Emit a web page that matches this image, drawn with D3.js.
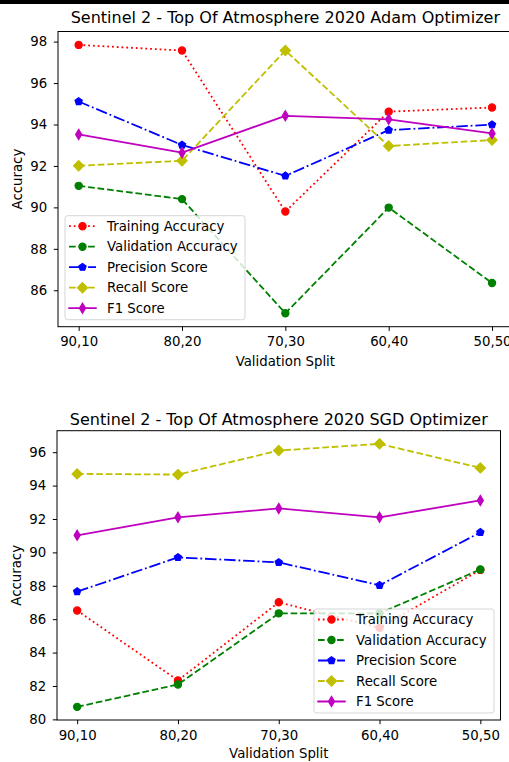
<!DOCTYPE html>
<html>
<head>
<meta charset="utf-8">
<script src="https://cdn.jsdelivr.net/npm/d3@7"></script>
<style>
  body { margin: 0; background: #fff; }
  svg { display: block; font-family: "DejaVu Sans", sans-serif; }
</style>
</head>
<body>
<svg id="chart" width="509" height="762"></svg>
<script>
// Validation splits (train %, validation %)
const splits = ["90,10", "80,20", "70,30", "60,40", "50,50"];
const seriesNames = ["Training Accuracy", "Validation Accuracy", "Precision Score", "Recall Score", "F1 Score"];

// Adam optimizer results
const adamTraining   = [97.84, 97.57, 89.80, 94.62, 94.82];
const adamValidation = [91.04, 90.40, 84.89, 89.99, 86.35];
const adamPrecision  = [95.11, 93.01, 91.52, 93.73, 93.99];
const adamRecall     = [92.01, 92.25, 97.57, 92.96, 93.25];
const adamF1         = [93.52, 92.64, 94.42, 94.25, 93.57];

// SGD optimizer results
const sgdTraining    = [86.52, 82.33, 87.01, 85.48, 88.95];
const sgdValidation  = [80.75, 82.09, 86.35, 86.35, 88.98];
const sgdPrecision   = [87.65, 89.70, 89.40, 88.03, 91.20];
const sgdRecall      = [94.70, 94.66, 96.10, 96.50, 95.06];
const sgdF1          = [91.02, 92.10, 92.63, 92.10, 93.11];

const adamTicks = [86, 88, 90, 92, 94, 96, 98];
const sgdTicks  = [80, 82, 84, 86, 88, 90, 92, 94, 96];

const titleAdam = "Sentinel 2 - Top Of Atmosphere 2020 Adam Optimizer";
const titleSgd  = "Sentinel 2 - Top Of Atmosphere 2020 SGD Optimizer";
const xLabel = "Validation Split";
const yLabel = "Accuracy";

const FONT = "13.3px";
const TITLE_FONT = "16px";

// line/marker styling per series
const styles = [
  { color: "#ff0000", dash: "1.8,2.97", cap: "butt", marker: "circle" },
  { color: "#008000", dash: "6.66,2.88", cap: "butt", marker: "circle" },
  { color: "#0000ff", dash: "11.52,2.88,1.8,2.88", cap: "butt", marker: "pentagon" },
  { color: "#bfbf00", dash: "6.66,2.88", cap: "butt", marker: "diamond" },
  { color: "#bf00bf", dash: null, cap: "round", marker: "thin_diamond" }
];

function markerPath(kind) {
  const s = 7.2; // marker size in px
  if (kind === "circle") {
    const r = s / 2;
    return `M${r},0A${r},${r},0,1,1,${-r},0A${r},${r},0,1,1,${r},0Z`;
  }
  if (kind === "pentagon") {
    const r = s / 2 * 1.05;
    const pts = d3.range(5).map(k => {
      const a = -Math.PI / 2 + k * 2 * Math.PI / 5;
      return [r * Math.cos(a), r * Math.sin(a)];
    });
    return "M" + pts.map(p => p.join(",")).join("L") + "Z";
  }
  const h = s * Math.SQRT1_2;
  const w = kind === "thin_diamond" ? h * 0.6 : h;
  return `M0,${-h}L${w},0L0,${h}L${-w},0Z`;
}

const svg = d3.select("#chart");

// strip along the top edge
svg.append("rect").attr("x", 0).attr("y", 0).attr("width", 509).attr("height", 4).attr("fill", "#000");

function panel(cfg) {
  const g = svg.append("g");
  const series = cfg.series;
  const all = series.flat();
  const lo = d3.min(all), hi = d3.max(all);
  const pad = (hi - lo) * 0.05;

  const x = d3.scalePoint().domain(splits).range([cfg.left, cfg.right]).padding(0.2);
  const y = d3.scaleLinear().domain([lo - pad, hi + pad]).range([cfg.bottom, cfg.top]);

  // axes
  const xAxis = d3.axisBottom(x).tickSize(4.2).tickPadding(6).tickSizeOuter(0);
  const yAxis = d3.axisLeft(y).tickValues(cfg.ticks).tickFormat(d3.format("d")).tickSize(4.2).tickPadding(6.6).tickSizeOuter(0);

  const gx = g.append("g").attr("transform", `translate(0,${cfg.bottom})`).call(xAxis);
  const gy = g.append("g").attr("transform", `translate(${cfg.left},0)`).call(yAxis);
  [gx, gy].forEach(a => {
    a.select(".domain").remove();
    a.selectAll("line").attr("stroke", "#000").attr("stroke-width", 1);
    a.selectAll("text").attr("fill", "#000").attr("font-size", FONT).attr("font-family", "DejaVu Sans");
  });

  // series lines and markers
  const line = d3.line().x((d, i) => x(splits[i])).y(d => y(d));
  series.forEach((vals, si) => {
    const st = styles[si];
    g.append("path")
      .attr("d", line(vals))
      .attr("fill", "none")
      .attr("stroke", st.color)
      .attr("stroke-width", 1.8)
      .attr("stroke-dasharray", st.dash)
      .attr("stroke-linecap", st.cap)
      .attr("stroke-linejoin", "round");
    g.selectAll(null).data(vals).enter().append("path")
      .attr("d", markerPath(st.marker))
      .attr("transform", (d, i) => `translate(${x(splits[i])},${y(d)})`)
      .attr("fill", st.color)
      .attr("stroke", st.color)
      .attr("stroke-width", 1.2);
  });

  // frame
  g.append("rect")
    .attr("x", cfg.left).attr("y", cfg.top)
    .attr("width", cfg.right - cfg.left).attr("height", cfg.bottom - cfg.top)
    .attr("fill", "none").attr("stroke", "#000").attr("stroke-width", 1);

  // titles
  g.append("text")
    .attr("x", (cfg.left + cfg.right) / 2).attr("y", cfg.titleY)
    .attr("text-anchor", "middle").attr("font-size", TITLE_FONT).attr("fill", "#000")
    .text(cfg.title);
  g.append("text")
    .attr("x", (cfg.left + cfg.right) / 2).attr("y", cfg.xLabelY)
    .attr("text-anchor", "middle").attr("font-size", FONT).attr("fill", "#000")
    .text(xLabel);
  g.append("text")
    .attr("transform", `translate(${cfg.yLabelX},${(cfg.top + cfg.bottom) / 2}) rotate(-90)`)
    .attr("text-anchor", "middle").attr("font-size", FONT).attr("fill", "#000")
    .text(yLabel);

  // legend
  const lw = 180, lh = 104;
  const lx = cfg.legendLeft ? cfg.left + 7 : cfg.right - 6.5 - lw;
  const ly = cfg.bottom - 7 - lh;
  const lg = g.append("g").attr("transform", `translate(${lx},${ly})`);
  lg.append("rect")
    .attr("x", 0).attr("y", 0).attr("width", lw).attr("height", lh).attr("rx", 2.5)
    .attr("fill", "#fff").attr("fill-opacity", 0.8)
    .attr("stroke", "#cccccc").attr("stroke-opacity", 0.8).attr("stroke-width", 1);
  seriesNames.forEach((name, si) => {
    const st = styles[si];
    const cy = 10.5 + si * 20.5;
    lg.append("line")
      .attr("x1", 4).attr("x2", 31).attr("y1", cy).attr("y2", cy)
      .attr("stroke", st.color).attr("stroke-width", 1.8)
      .attr("stroke-dasharray", st.dash).attr("stroke-linecap", st.cap);
    lg.append("path")
      .attr("d", markerPath(st.marker))
      .attr("transform", `translate(17.5,${cy})`)
      .attr("fill", st.color).attr("stroke", st.color).attr("stroke-width", 1.2);
    lg.append("text")
      .attr("x", 42).attr("y", cy + 4.7)
      .attr("font-size", FONT).attr("fill", "#000")
      .text(name);
  });
}

panel({
  series: [adamTraining, adamValidation, adamPrecision, adamRecall, adamF1],
  ticks: adamTicks, title: titleAdam,
  left: 58, right: 512.7, top: 31.5, bottom: 326.7,
  titleY: 23, xLabelY: 365.5, yLabelX: 21.5, legendLeft: true
});

panel({
  series: [sgdTraining, sgdValidation, sgdPrecision, sgdRecall, sgdF1],
  ticks: sgdTicks, title: titleSgd,
  left: 57, right: 500.5, top: 430.7, bottom: 720,
  titleY: 424.5, xLabelY: 757.5, yLabelX: 21, legendLeft: false
});
</script>
</body>
</html>
